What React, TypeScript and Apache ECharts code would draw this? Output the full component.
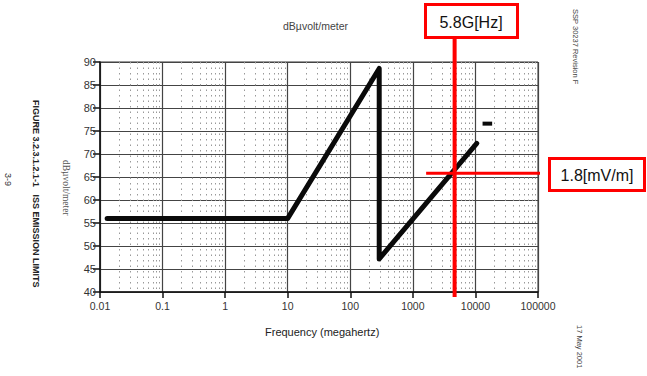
import React, { useEffect, useRef } from "react";
import * as echarts from "echarts";

const freqMHz = [0.013, 10, 290, 290, 10500];
const levelDb = [56, 56, 88.6, 47.2, 72.3];
const markFreq = [13000, 18500];
const markLevel = [76.6, 76.6];
const cursorFreq = 4650;
const cursorLevel = 65.8;
const xTickLabels = ["0.01", "0.1", "1", "10", "100", "1000", "10000", "100000"];

export default function App() {
  const ref = useRef<HTMLDivElement>(null);
  useEffect(() => {
    const chart = echarts.init(ref.current!, undefined, { renderer: "svg" });
    const font = "Arial, 'Liberation Sans', sans-serif";
    chart.setOption({
      animation: false,
      backgroundColor: "#fff",
      grid: { left: 100, right: 109, top: 62, bottom: 84, show: true, borderColor: "#333", borderWidth: 1 },
      xAxis: {
        type: "log",
        logBase: 10,
        min: 0.01,
        max: 100000,
        axisLine: { show: true, lineStyle: { color: "#111", width: 1.5 } },
        axisTick: { show: true, length: 6, lineStyle: { color: "#111", width: 1.5 } },
        axisLabel: {
          color: "#333",
          fontSize: 10.5,
          fontFamily: font,
          margin: 8,
          formatter: (v: number) => {
            const idx = Math.round(Math.log10(v)) + 2;
            return xTickLabels[idx] ?? "";
          },
        },
        splitLine: { show: true, lineStyle: { color: "#444", width: 1.2 } },
        minorTick: { show: false, splitNumber: 9 },
        minorSplitLine: { show: true, lineStyle: { color: "#999", width: 1, type: [1.5, 4] } },
      },
      yAxis: {
        type: "value",
        min: 40,
        max: 90,
        interval: 5,
        axisLine: { show: true, lineStyle: { color: "#111", width: 1.5 } },
        axisTick: { show: true, length: 7, lineStyle: { color: "#111", width: 1.5 } },
        axisLabel: { color: "#333", fontSize: 11, fontFamily: font, margin: 4 },
        splitLine: { show: true, lineStyle: { color: "#444", width: 1.2 } },
        minorTick: { show: false, splitNumber: 3 },
        minorSplitLine: { show: false },
      },
      series: [
        {
          type: "line",
          data: freqMHz.map((f, i) => [f, levelDb[i]]),
          symbol: "none",
          lineStyle: { color: "#0a0a0a", width: 5, join: "round", cap: "round" },
          z: 5,
        },
        {
          type: "line",
          data: markFreq.map((f, i) => [f, markLevel[i]]),
          symbol: "none",
          lineStyle: { color: "#0a0a0a", width: 4 },
          z: 5,
        },
        {
          type: "line",
          clip: false,
          data: [[cursorFreq, 38.9], [cursorFreq, 95]],
          symbol: "none",
          lineStyle: { color: "#ff0000", width: 4 },
          z: 6,
        },
        {
          type: "line",
          clip: false,
          data: [[1630, cursorLevel], [150000, cursorLevel]],
          symbol: "none",
          lineStyle: { color: "#ff0000", width: 3 },
          z: 6,
        },
      ],
      graphic: [
        { type: "text", left: 283, top: 20, style: { text: "dBµvolt/meter", fill: "#444", font: `10.5px ${font}` } },
        { type: "text", left: 265, top: 326, style: { text: "Frequency (megahertz)", fill: "#222", font: `11px ${font}` } },
        {
          type: "text", x: 40, y: 100, rotation: -Math.PI / 2,
          style: { text: "FIGURE 3.2.3.1.2.1-1   ISS EMISSION LIMITS", fill: "#222", font: `bold 9px ${font}` },
        },
        {
          type: "text", x: 71, y: 160, rotation: -Math.PI / 2,
          style: { text: "dBµvolt/meter", fill: "#555", font: `9.5px 'Liberation Serif', serif` },
        },
        {
          type: "text", x: 12, y: 173, rotation: -Math.PI / 2,
          style: { text: "3-9", fill: "#333", font: `9px ${font}` },
        },
        {
          type: "text", x: 579, y: 9, rotation: -Math.PI / 2,
          style: { text: "SSP 30237 Revision F", fill: "#444", font: `7.5px ${font}` },
        },
        {
          type: "text", x: 583, y: 325, rotation: -Math.PI / 2,
          style: { text: "17 May 2001", fill: "#444", font: `7.5px ${font}` },
        },
        {
          type: "group", left: 424, top: 3,
          children: [
            { type: "rect", shape: { x: 1.5, y: 1.5, width: 92, height: 33 }, style: { fill: "#fff", stroke: "#ff0000", lineWidth: 3 } },
            { type: "text", x: 47, y: 19, style: { text: "5.8G[Hz]", fill: "#111", font: `16px ${font}`, align: "center", verticalAlign: "middle" } },
          ],
        },
        {
          type: "group", left: 548, top: 157,
          children: [
            { type: "rect", shape: { x: 1.5, y: 1.5, width: 95, height: 32 }, style: { fill: "#fff", stroke: "#ff0000", lineWidth: 3 } },
            { type: "text", x: 49, y: 18, style: { text: "1.8[mV/m]", fill: "#111", font: `16px ${font}`, align: "center", verticalAlign: "middle" } },
          ],
        },
      ],
    });
    return () => chart.dispose();
  }, []);
  return <div ref={ref} style={{ width: 647, height: 376, position: "absolute", left: 0, top: 0 }} />;
}
